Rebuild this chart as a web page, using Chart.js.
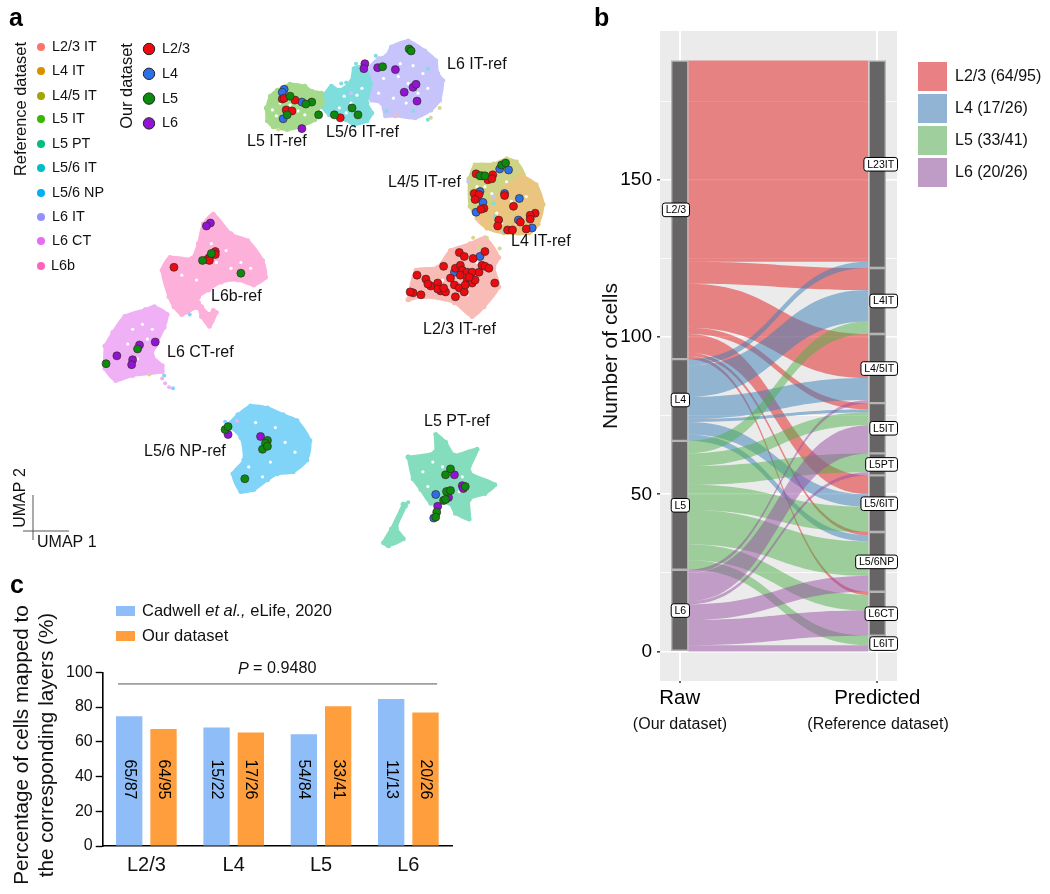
<!doctype html>
<html lang="en">
<head>
<meta charset="utf-8">
<title>UMAP, alluvial and bar panels</title>
<script src="https://cdn.jsdelivr.net/npm/chart.js@4"></script>
<style>
  html, body { margin: 0; padding: 0; background: #fff; }
  canvas { position: absolute; display: block; }
</style>
</head>
<body>
<canvas id="umapChart" width="590" height="570" style="left:0;top:0"></canvas>
<canvas id="flowChart" width="460" height="750" style="left:590px;top:0"></canvas>
<canvas id="barChart" width="460" height="324" style="left:0;top:570px"></canvas>
<script>
// ---- panel a: reference clouds (outlines)
const refNames = ['L2/3 IT','L4 IT','L4/5 IT','L5 IT','L5 PT','L5/6 IT','L5/6 NP','L6 IT','L6 CT','L6b'];
const ourNames = ['L2/3','L4','L5','L6'];

const cloudL23 = [[410,300],[418,270],[440,267],[453,250],[473,243],[488,237],[502,257],[497,267],[502,287],[487,307],[475,317],[457,303],[427,297],[410,300]];
const cloudL4 = [[525,173],[540,183],[547,203],[542,223],[533,232],[507,232],[490,227],[480,217],[493,205],[507,187],[525,173]];
const cloudL45 = [[472,177],[478,163],[497,162],[510,157],[520,160],[527,173],[510,187],[493,207],[483,217],[473,205],[472,177]];
const cloudL5 = [[266,105],[270,93],[277,87],[290,81],[305,83],[312,88],[322,90],[323,100],[318,108],[315,117],[303,123],[287,127],[273,124],[267,118],[266,105]];
const cloudPT = [[410,460],[437,455],[438,437],[448,445],[457,458],[480,452],[472,475],[498,488],[488,497],[472,503],[472,523],[458,517],[452,507],[433,507],[423,493],[415,482],[410,460]];
const cloudPTtail = [[405,508],[393,533],[385,547],[390,550],[405,543],[398,532],[407,510],[405,508]];
const cloudL56 = [[322,95],[332,83],[340,87],[352,78],[355,65],[365,63],[372,80],[368,100],[373,110],[368,118],[355,122],[347,117],[330,112],[322,103],[322,95]];
const cloudNP = [[227,427],[237,417],[250,408],[267,410],[283,417],[297,423],[310,443],[307,463],[293,475],[277,477],[267,483],[253,493],[240,495],[232,477],[243,463],[240,440],[227,427]];
const cloudL6IT = [[368,77],[372,63],[380,55],[388,52],[393,43],[410,37],[427,47],[438,57],[440,70],[445,77],[442,97],[433,107],[417,115],[397,113],[387,113],[383,100],[373,97],[368,87],[368,77]];
const cloudCT = [[102,347],[110,333],[122,317],[143,310],[152,307],[165,315],[162,328],[153,347],[150,357],[160,367],[160,373],[130,377],[113,382],[102,370],[102,347]];
const cloudL6b = [[197,243],[202,223],[212,213],[230,233],[247,240],[262,260],[265,277],[253,285],[237,280],[220,282],[207,290],[197,297],[197,303],[200,307],[208,315],[212,311],[215,313],[208,327],[200,317],[196,308],[180,315],[172,307],[167,297],[160,270],[168,257],[190,258],[197,243]];

// small gaps in the clouds, and stray cells outside them
const cloudGaps = [[272,107],[280,100],[290,102],[298,108],[305,112],[283,113],[276,113],[345,93],[352,100],[358,92],[340,105],[363,85],[347,110],
  [402,60],[415,62],[400,73],[385,75],[420,90],[395,95],[410,80],[425,70],[380,90],[408,100],[430,85],[488,185],[500,170],[510,180],[495,192],[480,185],
  [515,200],[500,212],[530,195],[520,222],[505,222],[535,210],[445,280],[465,265],[480,280],[470,295],[450,290],[490,270],[480,262],
  [210,243],[225,250],[240,262],[215,262],[250,268],[195,280],[180,275],[230,268],[130,330],[140,325],[125,345],[145,340],[115,355],[135,360],[150,330],
  [255,425],[275,430],[285,445],[260,450],[295,455],[270,465],[248,470],[262,480],[435,465],[445,470],[425,475],[470,490],[465,480],[430,490],[462,495],[440,497]];
const strayL56 = [[357,60],[377,52],[330,85],[342,80],[347,79],[430,65],[388,108],[415,108],[430,117],[497,202],[507,231],[498,215]];
const strayL45 = [[433,115],[442,105],[476,237],[490,237],[503,248],[482,247],[278,127],[147,376]];
const strayL6IT = [[471,180],[497,195],[352,90]];
const strayL23 = [[398,112],[482,220],[497,227]];
const strayCT = [[160,380],[167,389],[163,385],[236,423]];
const strayNP = [[162,377],[171,390],[188,315],[224,424]];
const strayPT = [[410,506],[408,508],[439,519]];

// panel a: our dataset
const ourL23 = [[462,252],[467,256],[476,258],[488,251],[446,266],[419,275],[428,279],[433,286],[440,283],[443,291],[448,292],[458,297],[453,278],[457,285],[462,288],[467,292],[458,268],[463,265],[465,270],[463,275],[470,272],[475,272],[482,272],[485,265],[488,266],[492,268],[470,280],[475,283],[478,280],[498,283],[415,293],[423,295],[412,292],[440,289],[446,288],[472,277],[468,285],[430,284],
  [479,172],[491,178],[496,173],[495,177],[477,192],[482,193],[478,198],[487,207],[484,208],[508,194],[517,205],[502,219],[501,225],[524,221],[539,212],[534,214],[534,218],[511,229],[516,229],[530,228],[485,174],
  [282,96],[284,95],[295,97],[286,107],[292,108],[341,115],[172,267],[214,251],[214,254],[208,257],[206,259],[208,260]];
const ourL4 = [[284,86],[282,89],[302,99],[283,116],[503,167],[512,168],[483,190],[480,197],[486,201],[479,211],[508,192],[523,197],[522,219],[536,227],[483,256],[457,272],[438,498],[436,522]];
const ourL5 = [[290,93],[312,99],[306,101],[287,112],[319,112],[335,112],[353,105],[359,112],[384,63],[411,45],[413,47],[505,163],[509,161],[483,174],[488,174],
  [201,260],[210,253],[240,273],[135,350],[103,365],[224,432],[227,429],[267,443],[265,446],[262,452],[267,449],[244,482],
  [453,472],[448,478],[449,495],[453,494],[446,504],[448,503],[439,516],[438,521],[468,490]];
const ourL6 = [[302,126],[366,60],[365,65],[379,64],[397,66],[415,84],[418,81],[406,89],[419,98],[209,222],[205,225],[137,346],[153,343],[114,357],[130,361],[129,366],[227,437],[260,439],[457,478],[451,501],[440,510],[465,489],[466,492]];

const clusterNames = ['L5 IT-ref','L5/6 IT-ref','L6 IT-ref','L4/5 IT-ref','L4 IT-ref','L2/3 IT-ref','L6b-ref','L6 CT-ref','L5/6 NP-ref','L5 PT-ref'];

// ---- panel b: cells going from each layer (rows) to each reference type (columns)
const rawLayers = ['L2/3','L4','L5','L6'];
const predictedTypes = ['L23IT','L4IT','L4/5IT','L5IT','L5PT','L5/6IT','L5/6NP','L6CT','L6IT'];
const flowL23 = [64,7,14,2,0,6,1,1,0];
const flowL4 = [2,10,7,1,0,4,2,0,0];
const flowL5 = [0,4,0,4,6,8,11,5,3];
const flowL6 = [0,0,1,9,1,0,5,8,2];
const flowLegend = ['L2/3 (64/95)','L4 (17/26)','L5 (33/41)','L6 (20/26)'];
const flowTicks = [0,25,50,75,100,125,150,175];

// ---- panel c
const barLayers = ['L2/3','L4','L5','L6'];
const cadwellPct = [74.7,68.2,64.3,84.6];
const ourPct = [67.4,65.4,80.5,76.9];
const cadwellCounts = ['65/87','15/22','54/84','11/13'];
const ourCounts = ['64/95','17/26','33/41','20/26'];

Chart.defaults.font.family = '"Liberation Sans", Arial, sans-serif';
Chart.defaults.color = '#000';
Chart.defaults.animation = false;

const FONT = '"Liberation Sans", Arial, sans-serif';
function label(ctx, str, x, y, size, opts) {
  opts = opts || {};
  ctx.save();
  ctx.translate(x, y);
  if (opts.rot) ctx.rotate(opts.rot);
  ctx.font = (opts.style || '') + ' ' + size + 'px ' + FONT;
  ctx.fillStyle = opts.color || '#111';
  ctx.textAlign = opts.align || 'left';
  ctx.textBaseline = 'middle';
  ctx.fillText(str, 0, 0);
  ctx.restore();
}

// ---------------- panel a
const refColors = ['#F8766D','#D89000','#A3A500','#39B600','#00BF7D','#00BFC4','#00B0F6','#9590FF','#E76BF3','#FF62BC'];
const ourColors = ['#EE0A0F','#2B70E8','#0B8A0B','#9212D6'];

function cloud(points, color) {
  return { data: points, showLine: true, fill: 'shape', tension: 0.25, backgroundColor: color, borderColor: color, borderWidth: 3,
    pointRadius: 2.5, pointBackgroundColor: color, pointBorderWidth: 0, borderJoinStyle: 'round', order: 10 };
}
function dots(points, color, radius, order) {
  return { data: points, backgroundColor: color, borderWidth: 0, pointRadius: radius, order: order };
}
function ourDots(points, color, order) {
  return { data: points, backgroundColor: color, borderColor: '#3a2a2a', borderWidth: 0.7, pointRadius: 4, order: order };
}

const umapLabels = {
  id: 'umapLabels',
  afterDraw(chart) {
    const ctx = chart.ctx;
    label(ctx, 'a', 9, 19, 25, { style: 'bold', color: '#000' });
    label(ctx, 'Reference dataset', 21, 109, 16.4, { rot: -Math.PI / 2, align: 'center' });
    label(ctx, 'Our dataset', 127, 86, 16.4, { rot: -Math.PI / 2, align: 'center' });
    const refY = [47,71,96,119,144,168,193,217,241,266];
    refNames.forEach((n, i) => {
      ctx.fillStyle = refColors[i];
      ctx.beginPath(); ctx.arc(41, refY[i], 4, 0, 7); ctx.fill();
      label(ctx, n, i === 9 ? 51 : 52, refY[i], 14.4);
    });
    ourNames.forEach((n, i) => {
      const y = 49 + i * 24.8;
      ctx.fillStyle = ourColors[i]; ctx.strokeStyle = '#222'; ctx.lineWidth = 1;
      ctx.beginPath(); ctx.arc(149, y, 5.7, 0, 7); ctx.fill(); ctx.stroke();
      label(ctx, n, 162, y, 14.4);
    });
    const nameX = [247,326,447,388,511,423,211,167,144,424];
    const nameY = [142,133,65,183,242,330,297,353,452,422];
    clusterNames.forEach((n, i) => label(ctx, n, nameX[i], nameY[i], 16));
    // UMAP corner
    ctx.strokeStyle = '#555'; ctx.lineWidth = 1;
    ctx.beginPath(); ctx.moveTo(33, 495); ctx.lineTo(33, 540); ctx.moveTo(23, 531); ctx.lineTo(69, 531); ctx.stroke();
    label(ctx, 'UMAP 2', 21, 498, 16, { rot: -Math.PI / 2, align: 'center' });
    label(ctx, 'UMAP 1', 37, 543, 16);
  }
};

new Chart(document.getElementById('umapChart'), {
  type: 'scatter',
  data: { datasets: [
    ourDots(ourL4, ourColors[1], 2), ourDots(ourL23, ourColors[0], 1), ourDots(ourL5, ourColors[2], 0), ourDots(ourL6, ourColors[3], 0),
    dots(strayL56, '#7FDEDD', 2, 8), dots(strayL45, '#D5D88C', 2, 8), dots(strayL6IT, '#C6C4FA', 2, 8), dots(strayL23, '#F9BBB5', 2, 8),
    dots(strayCT, '#F0B0F5', 2, 8), dots(strayNP, '#80D4F8', 2, 8), dots(strayPT, '#84DDBD', 2, 8),
    dots(cloudGaps, '#fff', 1.6, 9),
    cloud(cloudL23, '#F9BBB5'), cloud(cloudL4, '#E9C57F'), cloud(cloudL45, '#CFD386'), cloud(cloudL5, '#A5DA8C'),
    cloud(cloudPT, '#84DDBD'), cloud(cloudPTtail, '#84DDBD'), cloud(cloudL56, '#7FDEDD'), cloud(cloudNP, '#80D4F8'),
    cloud(cloudL6IT, '#C6C4FA'), cloud(cloudCT, '#F0B0F5'), cloud(cloudL6b, '#FDB0DA')
  ] },
  options: {
    responsive: false,
    layout: { padding: 0 },
    plugins: { legend: { display: false }, tooltip: { enabled: false } },
    scales: {
      x: { type: 'linear', display: false, min: 0, max: 590 },
      y: { type: 'linear', display: false, min: 0, max: 570, reverse: true }
    }
  },
  plugins: [umapLabels]
});

// ---------------- panel b
const flowRows = [flowL23, flowL4, flowL5, flowL6];
const flowColors = ['rgba(228,26,28,0.5)','rgba(55,126,184,0.5)','rgba(77,175,74,0.5)','rgba(152,78,163,0.5)'];
const totalCells = flowRows.flat().reduce((a, b) => a + b, 0);

// stack from the top on both axes, in the order of predictedTypes
const leftStrata = [], rightStrata = [], bands = [];
let stackTop = totalCells;
const leftTops = flowRows.map(row => {
  const t = stackTop, size = row.reduce((a, b) => a + b, 0);
  stackTop -= size;
  leftStrata.push({ x: 1, y: [stackTop, t] });
  return t;
});
const rightTops = [];
stackTop = totalCells;
predictedTypes.forEach((t, j) => {
  const size = flowRows.reduce((a, row) => a + row[j], 0);
  rightTops.push(stackTop);
  rightStrata.push({ x: 2, y: [stackTop - size, stackTop] });
  stackTop -= size;
});
const leftCursor = leftTops.slice(), rightCursor = rightTops.slice();
predictedTypes.forEach((t, j) => {
  flowRows.forEach((row, i) => {
    if (!row[j]) return;
    bands.push({ layer: i, l1: leftCursor[i], l0: leftCursor[i] - row[j], r1: rightCursor[j], r0: rightCursor[j] - row[j] });
    leftCursor[i] -= row[j];
    rightCursor[j] -= row[j];
  });
});

const alluvial = {
  id: 'alluvial',
  beforeDraw(chart) {
    const { ctx, chartArea: a } = chart;
    ctx.fillStyle = '#EBEBEB';
    ctx.fillRect(a.left, a.top, a.width, a.height);
  },
  beforeDatasetsDraw(chart) {
    const { ctx, scales: { x, y } } = chart;
    const x0 = x.getPixelForValue(1) + 8.5, x1 = x.getPixelForValue(2) - 9;
    const mid = (x0 + x1) / 2;
    [0, 1, 2, 3].forEach(layer => bands.filter(b => b.layer === layer).forEach(b => {
      ctx.fillStyle = flowColors[layer];
      ctx.beginPath();
      ctx.moveTo(x0, y.getPixelForValue(b.l1));
      ctx.bezierCurveTo(mid, y.getPixelForValue(b.l1), mid, y.getPixelForValue(b.r1), x1, y.getPixelForValue(b.r1));
      ctx.lineTo(x1, y.getPixelForValue(b.r0));
      ctx.bezierCurveTo(mid, y.getPixelForValue(b.r0), mid, y.getPixelForValue(b.l0), x0, y.getPixelForValue(b.l0));
      ctx.closePath();
      ctx.fill();
    }));
  },
  afterDraw(chart) {
    const { ctx, scales: { y } } = chart;
    const tag = (str, right, val) => {
      ctx.font = '10.6px ' + FONT;
      const w = ctx.measureText(str).width + 6.5, py = y.getPixelForValue(val);
      ctx.fillStyle = '#fff'; ctx.strokeStyle = '#000'; ctx.lineWidth = 1;
      ctx.beginPath(); ctx.roundRect(right - w, py - 6.8, w, 13.6, 2.5); ctx.fill(); ctx.stroke();
      label(ctx, str, right - w / 2, py + 0.5, 10.6, { align: 'center', color: '#000' });
    };
    rawLayers.forEach((n, i) => tag(n, 99.5, (leftStrata[i].y[0] + leftStrata[i].y[1]) / 2));
    predictedTypes.forEach((n, j) => tag(n, 307.5, (rightStrata[j].y[0] + rightStrata[j].y[1]) / 2));
    label(ctx, 'b', 4, 19, 25, { style: 'bold', color: '#000' });
    label(ctx, '(Our dataset)', 90, 725, 16, { align: 'center' });
    label(ctx, '(Reference dataset)', 288, 725, 16, { align: 'center' });
    const keyColors = ['#E98084','#91B4D4','#9FCF9D','#BF9CC6'];
    flowLegend.forEach((n, i) => {
      const ky = 62 + i * 32;
      ctx.fillStyle = keyColors[i];
      ctx.fillRect(328, ky, 29, 29);
      label(ctx, n, 365, ky + 15, 16);
    });
  }
};

new Chart(document.getElementById('flowChart'), {
  type: 'bar',
  data: { datasets: [{
    data: leftStrata.concat(rightStrata),
    backgroundColor: '#666464', borderColor: '#B5B5B5', borderWidth: 1.5, borderSkipped: false,
    barThickness: 17, grouped: false
  }] },
  options: {
    responsive: false,
    layout: { padding: { top: 31, right: 153, bottom: 0, left: 0 } },
    plugins: { legend: { display: false }, tooltip: { enabled: false } },
    scales: {
      x: {
        type: 'linear', min: 0.9, max: 2.1, offset: false,
        afterBuildTicks: s => { s.ticks = [{ value: 1 }, { value: 2 }]; },
        afterFit: s => { s.height = 69; },
        ticks: { callback: v => (v === 1 ? 'Raw' : 'Predicted'), font: { size: 20.4 }, padding: 3, maxRotation: 0, autoSkip: false },
        grid: { offset: false, color: '#fff', lineWidth: 2, tickColor: '#333', tickLength: 2, tickWidth: 1.5 },
        border: { display: false }
      },
      y: {
        type: 'linear', min: -9.4, max: 197.4,
        afterBuildTicks: s => { s.ticks = flowTicks.map(v => ({ value: v })); },
        afterFit: s => { s.width = 70; },
        title: { display: true, text: 'Number of cells', font: { size: 21 }, padding: { top: 9, bottom: 0 }, color: '#111' },
        ticks: { callback: v => (v % 50 === 0 ? v : ''), font: { size: 19 }, padding: 5, autoSkip: false },
        grid: {
          color: '#fff',
          lineWidth: c => (c.tick && c.tick.value % 50 === 0 ? 1.6 : 0.8),
          tickColor: c => (c.tick && c.tick.value % 50 === 0 ? '#333' : 'rgba(0,0,0,0)'),
          tickLength: 3, tickWidth: 1.5
        },
        border: { display: false }
      }
    }
  },
  plugins: [alluvial]
});

// ---------------- panel c
const barNotes = {
  id: 'barNotes',
  afterDraw(chart) {
    const { ctx, scales: { x, y } } = chart;
    label(ctx, 'c', 10, 16, 25, { style: 'bold', color: '#000' });
    label(ctx, 'Percentage of cells mapped to', 22, 175, 20.7, { rot: -Math.PI / 2, align: 'center' });
    label(ctx, 'the corresponding layers (%)', 47, 175, 20.7, { rot: -Math.PI / 2, align: 'center' });

    ctx.fillStyle = '#8FBDF8'; ctx.fillRect(116, 36, 19, 10);
    ctx.fillStyle = '#FF9E3D'; ctx.fillRect(116, 61, 19, 10);
    label(ctx, 'Cadwell ', 142, 41, 16.5);
    ctx.font = '16.5px ' + FONT;
    let tx = 142 + ctx.measureText('Cadwell ').width;
    label(ctx, 'et al.,', tx, 41, 16.5, { style: 'italic' });
    ctx.font = 'italic 16.5px ' + FONT;
    tx += ctx.measureText('et al.,').width;
    label(ctx, ' eLife, 2020', tx, 41, 16.5);
    label(ctx, 'Our dataset', 142, 66, 16.5);

    ctx.strokeStyle = '#555'; ctx.lineWidth = 1;
    ctx.beginPath();
    ctx.moveTo(x.getPixelForValue(-0.324), y.getPixelForValue(93.3));
    ctx.lineTo(x.getPixelForValue(3.33), y.getPixelForValue(93.3));
    ctx.stroke();
    label(ctx, 'P', 238, 99, 16.2, { style: 'italic' });
    label(ctx, ' = 0.9480', 248.5, 99, 16.2);

    [cadwellCounts, ourCounts].forEach((counts, d) => {
      chart.getDatasetMeta(d).data.forEach((bar, i) => {
        label(ctx, counts[i], bar.x, y.getPixelForValue(38.3), 16, { rot: Math.PI / 2, align: 'center', color: '#000' });
      });
    });
  }
};

new Chart(document.getElementById('barChart'), {
  type: 'bar',
  data: {
    labels: barLayers,
    datasets: [
      { label: 'Cadwell et al., eLife, 2020', data: cadwellPct, backgroundColor: '#8FBDF8' },
      { label: 'Our dataset', data: ourPct, backgroundColor: '#FF9E3D' }
    ]
  },
  options: {
    responsive: false,
    layout: { padding: { top: 102.3, right: 8, bottom: 0, left: 0 } },
    categoryPercentage: 0.786,
    barPercentage: 0.767,
    plugins: { legend: { display: false }, tooltip: { enabled: false } },
    scales: {
      x: {
        afterFit: s => { s.height = 48; },
        ticks: { font: { size: 20 }, padding: 7, color: '#111' },
        grid: { display: false, drawTicks: false },
        border: { color: '#000', width: 1.6 }
      },
      y: {
        min: 0, max: 100,
        afterFit: s => { s.width = 102.7; },
        ticks: { stepSize: 20, font: { size: 16 }, padding: 3, color: '#111' },
        grid: { drawOnChartArea: false, tickColor: '#000', tickLength: 7, tickWidth: 1.4 },
        border: { color: '#000', width: 1.6 }
      }
    }
  },
  plugins: [barNotes]
});
</script>
</body>
</html>
